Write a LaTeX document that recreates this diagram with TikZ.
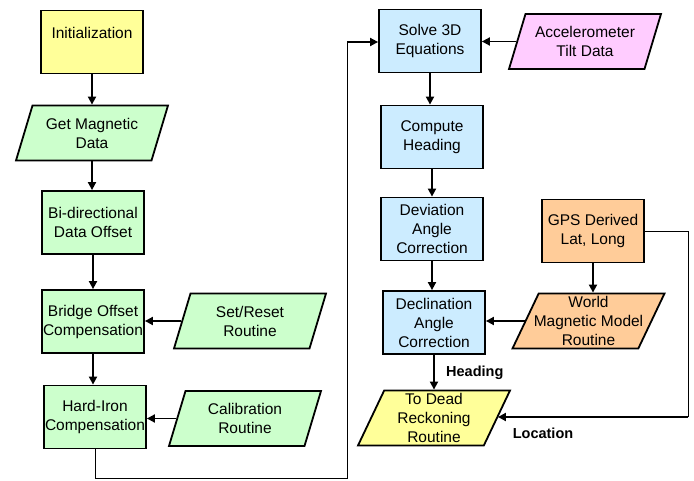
\documentclass[tikz,border=0pt]{standalone}
\usepackage{fontspec}
\setmainfont{Liberation Sans}
\usetikzlibrary{shapes.geometric,arrows.meta,calc}

\definecolor{yellowfill}{HTML}{FFFF99}
\definecolor{greenfill}{HTML}{CCFFCC}
\definecolor{bluefill}{HTML}{CCECFF}
\definecolor{pinkfill}{HTML}{FFCCFF}
\definecolor{orangefill}{HTML}{FFCC99}

\tikzset{
	procbox/.style={draw, line width=1.8pt, minimum width=102pt, minimum height=63pt, align=center, inner sep=1pt, font=\fontsize{15.5}{19}\selectfont},
	iobox/.style={draw, line width=1.8pt, trapezium, trapezium left angle=63, trapezium right angle=117, trapezium stretches body, minimum width=152pt, minimum height=55pt, align=center, inner sep=1pt, font=\fontsize{15.5}{19}\selectfont},
	flow/.style={line width=1.8pt, -{Triangle[length=8pt,width=8pt]}},
	wire/.style={line width=0.9pt},
	lbl/.style={font=\bfseries\fontsize{14.5}{17}\selectfont, inner sep=0pt}
}

\begin{document}
\begin{tikzpicture}[x=1pt,y=-1pt]
			\useasboundingbox (0,0) rectangle (694,481);
			% left column
			\node[procbox, fill=yellowfill] (init) at (92,42) {Initialization\\~};
			\node[iobox, fill=greenfill] (getmag) at (92,133) {Get Magnetic\\Data};
			\node[procbox, fill=greenfill] (bidir) at (93,222.5) {Bi-directional\\Data Offset};
			\node[procbox, fill=greenfill] (bridge) at (93,321.5) {Bridge Offset\\Compensation};
			\node[procbox, fill=greenfill] (hardiron) at (95,417) {Hard-Iron\\Compensation};
			\node[iobox, fill=greenfill] (setreset) at (250,321) {Set/Reset\\Routine};
			\node[iobox, fill=greenfill] (calib) at (245,418.5) {Calibration\\Routine};
			% right column
			\node[procbox, fill=bluefill] (solve) at (430,41) {Solve 3D\\Equations};
			\node[iobox, fill=pinkfill] (accel) at (585,41.5) {Accelerometer\\Tilt Data};
			\node[procbox, fill=bluefill] (heading) at (432,137) {Compute\\Heading};
			\node[procbox, fill=bluefill] (deviation) at (432,229) {Deviation\\Angle\\Correction};
			\node[procbox, fill=bluefill] (declination) at (434,322.5) {Declination\\Angle\\Correction};
			\node[procbox, fill=orangefill] (gps) at (593,231) {GPS Derived\\Lat, Long};
			\node[iobox, fill=orangefill, inner xsep=-10pt] (wmm) at (588.5,321) {World\\Magnetic Model\\Routine};
			\node[iobox, fill=yellowfill] (deadreck) at (434,418) {To Dead\\Reckoning\\Routine};
			\node[lbl, anchor=west] (headlbl) at (446,373) {Heading};
			\node[lbl] (loclbl) at (543,433) {Location};
			% arrows
			\draw[flow] (init.south) -- (init.south |- getmag.north);
			\draw[flow] (getmag.south) -- (getmag.south |- bidir.north);
			\draw[flow] (bidir.south) -- (bidir.south |- bridge.north);
			\draw[flow] (bridge.south) -- (bridge.south |- hardiron.north);
			\draw[flow] (setreset.west) -- (setreset.west -| bridge.east);
			\draw[flow] (calib.west) -- (calib.west -| hardiron.east);
			\draw[flow] (accel.west) -- (accel.west -| solve.east);
			\draw[flow] (solve.south) -- (solve.south |- heading.north);
			\draw[flow] (heading.south) -- (heading.south |- deviation.north);
			\draw[flow] (deviation.south) -- (deviation.south |- declination.north);
			\draw[flow] (gps.south) -- (gps.south |- wmm.north);
			\draw[flow] (wmm.west) -- (wmm.west -| declination.east);
			\draw[flow] (declination.south) -- (declination.south |- deadreck.north);
			% feedback and location lines
			\coordinate (fbcorner) at (347,478);
			\coordinate (fbtop) at (347,42);
			\draw[wire] (hardiron.south) |- (fbcorner) -- (fbtop);
			\draw[flow] (fbtop) -- (fbtop -| solve.west);
			\coordinate (loccorner) at (688,417);
			\draw[wire] (gps.east) -| (loccorner);
			\draw[flow] (loccorner) -- (loccorner -| deadreck.east);
	\end{tikzpicture}
\end{document}
